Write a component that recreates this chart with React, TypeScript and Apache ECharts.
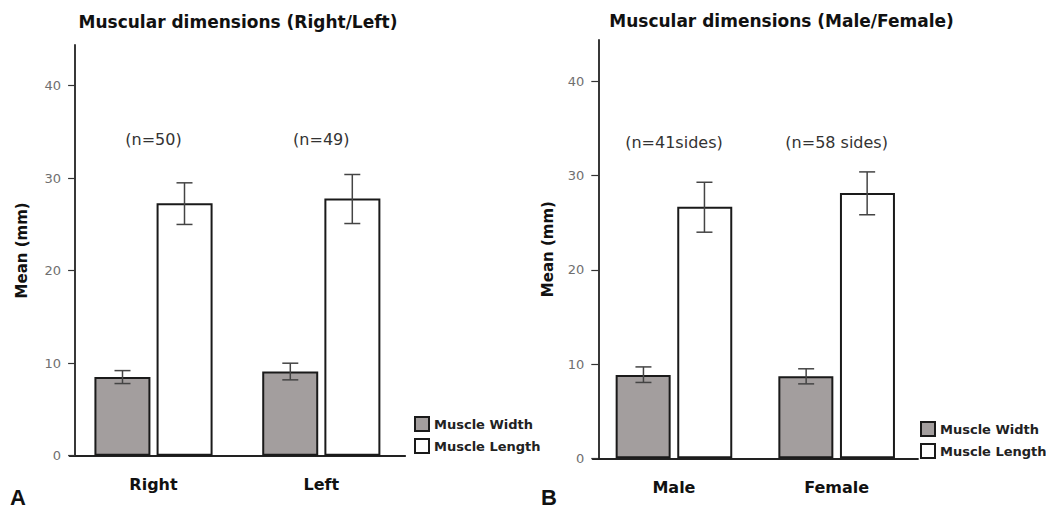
import React, { useEffect, useRef } from "react";
import * as echarts from "echarts";

// ---- data ----
const categoriesA = ["Right", "Left"];
const widthMeanA = [8.5, 9.1];
const widthLowA = [7.8, 8.2];
const widthHighA = [9.2, 10.0];
const lengthMeanA = [27.3, 27.8];
const lengthLowA = [25.0, 25.1];
const lengthHighA = [29.5, 30.4];
const annotA = ["(n=50)", "(n=49)"];

const categoriesB = ["Male", "Female"];
const widthMeanB = [8.85, 8.7];
const widthLowB = [8.05, 7.9];
const widthHighB = [9.7, 9.5];
const lengthMeanB = [26.7, 28.15];
const lengthLowB = [24.0, 25.85];
const lengthHighB = [29.3, 30.4];
const annotB = ["(n=41sides)", "(n=58 sides)"];

const annotY = [34.2, 33.5];
const yTicks = [0, 10, 20, 30, 40];
const yMax = 44.4;
const seriesNames = ["Muscle Width", "Muscle Length"];
const titles = ["Muscular dimensions (Right/Left)", "Muscular dimensions (Male/Female)"];
const panelLetters = ["A", "B"];

const FONT = "DejaVu Sans";

function errorSeries(idx: number, low: number[], high: number[], shift: number) {
  return {
    type: "custom",
    xAxisIndex: idx,
    yAxisIndex: idx,
    silent: true,
    z: 10,
    encode: { x: 0, y: [1, 2] },
    data: low.map((l, i) => [i, l, high[i]]),
    renderItem: (params: any, api: any) => {
      const lo = api.coord([api.value(0), api.value(1)]);
      const hi = api.coord([api.value(0), api.value(2)]);
      const x = lo[0] + shift;
      const cap = 8;
      const st = { stroke: "#444", lineWidth: 1.5 };
      return {
        type: "group",
        children: [
          { type: "line", shape: { x1: x, y1: lo[1], x2: x, y2: hi[1] }, style: st },
          { type: "line", shape: { x1: x - cap, y1: lo[1], x2: x + cap, y2: lo[1] }, style: st },
          { type: "line", shape: { x1: x - cap, y1: hi[1], x2: x + cap, y2: hi[1] }, style: st },
        ],
      };
    },
  };
}

function annotSeries(idx: number, labels: string[]) {
  return {
    type: "custom",
    xAxisIndex: idx,
    yAxisIndex: idx,
    silent: true,
    data: labels.map((_, i) => [i, annotY[idx]]),
    renderItem: (params: any, api: any) => {
      const p = api.coord([api.value(0), api.value(1)]);
      return {
        type: "text",
        x: p[0],
        y: p[1],
        style: {
          text: labels[params.dataIndex],
          align: "center",
          verticalAlign: "middle",
          fontFamily: FONT,
          fontSize: 16,
          fill: "#333",
        },
      };
    },
  };
}

function barSeries(idx: number, name: string, data: number[], fill: string, bw: number, gap: string) {
  return {
    type: "bar",
    name,
    xAxisIndex: idx,
    yAxisIndex: idx,
    data,
    barWidth: bw,
    barGap: gap,
    itemStyle: { color: fill, borderColor: "#1a1a1a", borderWidth: 2 },
  };
}

function xAxis(idx: number, cats: string[]) {
  return {
    type: "category",
    gridIndex: idx,
    data: cats,
    axisLine: { lineStyle: { color: "#222", width: 1.8 } },
    axisTick: { alignWithLabel: true, length: 6, lineStyle: { color: "#222", width: 1.5 } },
    axisLabel: { fontFamily: FONT, fontWeight: "bold", fontSize: 16, color: "#111", margin: 21 },
  };
}

function yAxis(idx: number, offset: number, nameGap: number) {
  return {
    type: "value",
    gridIndex: idx,
    min: 0,
    max: yMax,
    interval: 10,
    offset,
    name: "Mean (mm)",
    nameLocation: "middle",
    nameGap,
    nameTextStyle: { fontFamily: FONT, fontWeight: "bold", fontSize: 15, color: "#111" },
    splitLine: { show: false },
    axisLine: { show: true, lineStyle: { color: "#222", width: 1.8 } },
    axisTick: { show: true, length: 7, customValues: yTicks, lineStyle: { color: "#333", width: 1.2 } },
    axisLabel: { customValues: yTicks, fontFamily: FONT, fontSize: 13, color: "#6f6f6f", margin: 14 },
  };
}

export default function App() {
  const ref = useRef<HTMLDivElement>(null);
  useEffect(() => {
    if (!ref.current) return;
    const chart = echarts.init(ref.current, undefined, { renderer: "svg" });
    const legendCommon = {
      orient: "vertical",
      icon: "rect",
      itemWidth: 14,
      itemHeight: 14,
      itemGap: 6,
      data: seriesNames,
      textStyle: { fontFamily: FONT, fontWeight: "bold", fontSize: 13, color: "#222" },
      selectedMode: false,
    };
    const titleStyle = { align: "center", verticalAlign: "middle", fontFamily: FONT, fontWeight: "bold", fontSize: 17, fill: "#111" };
    const letterStyle = { verticalAlign: "middle", fontFamily: "Liberation Sans", fontWeight: "bold", fontSize: 22, fill: "#111" };
    chart.setOption({
      animation: false,
      backgroundColor: "#fff",
      grid: [
        { left: 69.6, top: 45, width: 335.6, height: 410.7 },
        { left: 592.6, top: 40, width: 325.4, height: 418.3 },
      ],
      xAxis: [xAxis(0, categoriesA), xAxis(1, categoriesB)],
      yAxis: [yAxis(0, -5.5, 46), yAxis(1, -5.7, 43)],
      legend: [
        { ...legendCommon, left: 409, top: 411 },
        { ...legendCommon, left: 915, top: 416 },
      ],
      graphic: [
        { type: "text", x: 238, y: 22, style: { ...titleStyle, text: titles[0] } },
        { type: "text", x: 781.5, y: 21, style: { ...titleStyle, text: titles[1] } },
        { type: "text", x: 10, y: 497, style: { ...letterStyle, text: panelLetters[0] } },
        { type: "text", x: 541, y: 497, style: { ...letterStyle, text: panelLetters[1] } },
      ],
      series: [
        barSeries(0, seriesNames[0], widthMeanA, "#a39e9e", 56, "11%"),
        barSeries(0, seriesNames[1], lengthMeanA, "#ffffff", 56, "11%"),
        barSeries(1, seriesNames[0], widthMeanB, "#a39e9e", 55, "12%"),
        barSeries(1, seriesNames[1], lengthMeanB, "#ffffff", 55, "12%"),
        errorSeries(0, widthLowA, widthHighA, -31),
        errorSeries(0, lengthLowA, lengthHighA, 31),
        errorSeries(1, widthLowB, widthHighB, -30.5),
        errorSeries(1, lengthLowB, lengthHighB, 30.5),
        annotSeries(0, annotA),
        annotSeries(1, annotB),
      ],
    });
    return () => chart.dispose();
  }, []);
  return (
    <div
      ref={ref}
      style={{ position: "fixed", left: 0, top: 0, width: 1046, height: 511, background: "#fff" }}
    />
  );
}
